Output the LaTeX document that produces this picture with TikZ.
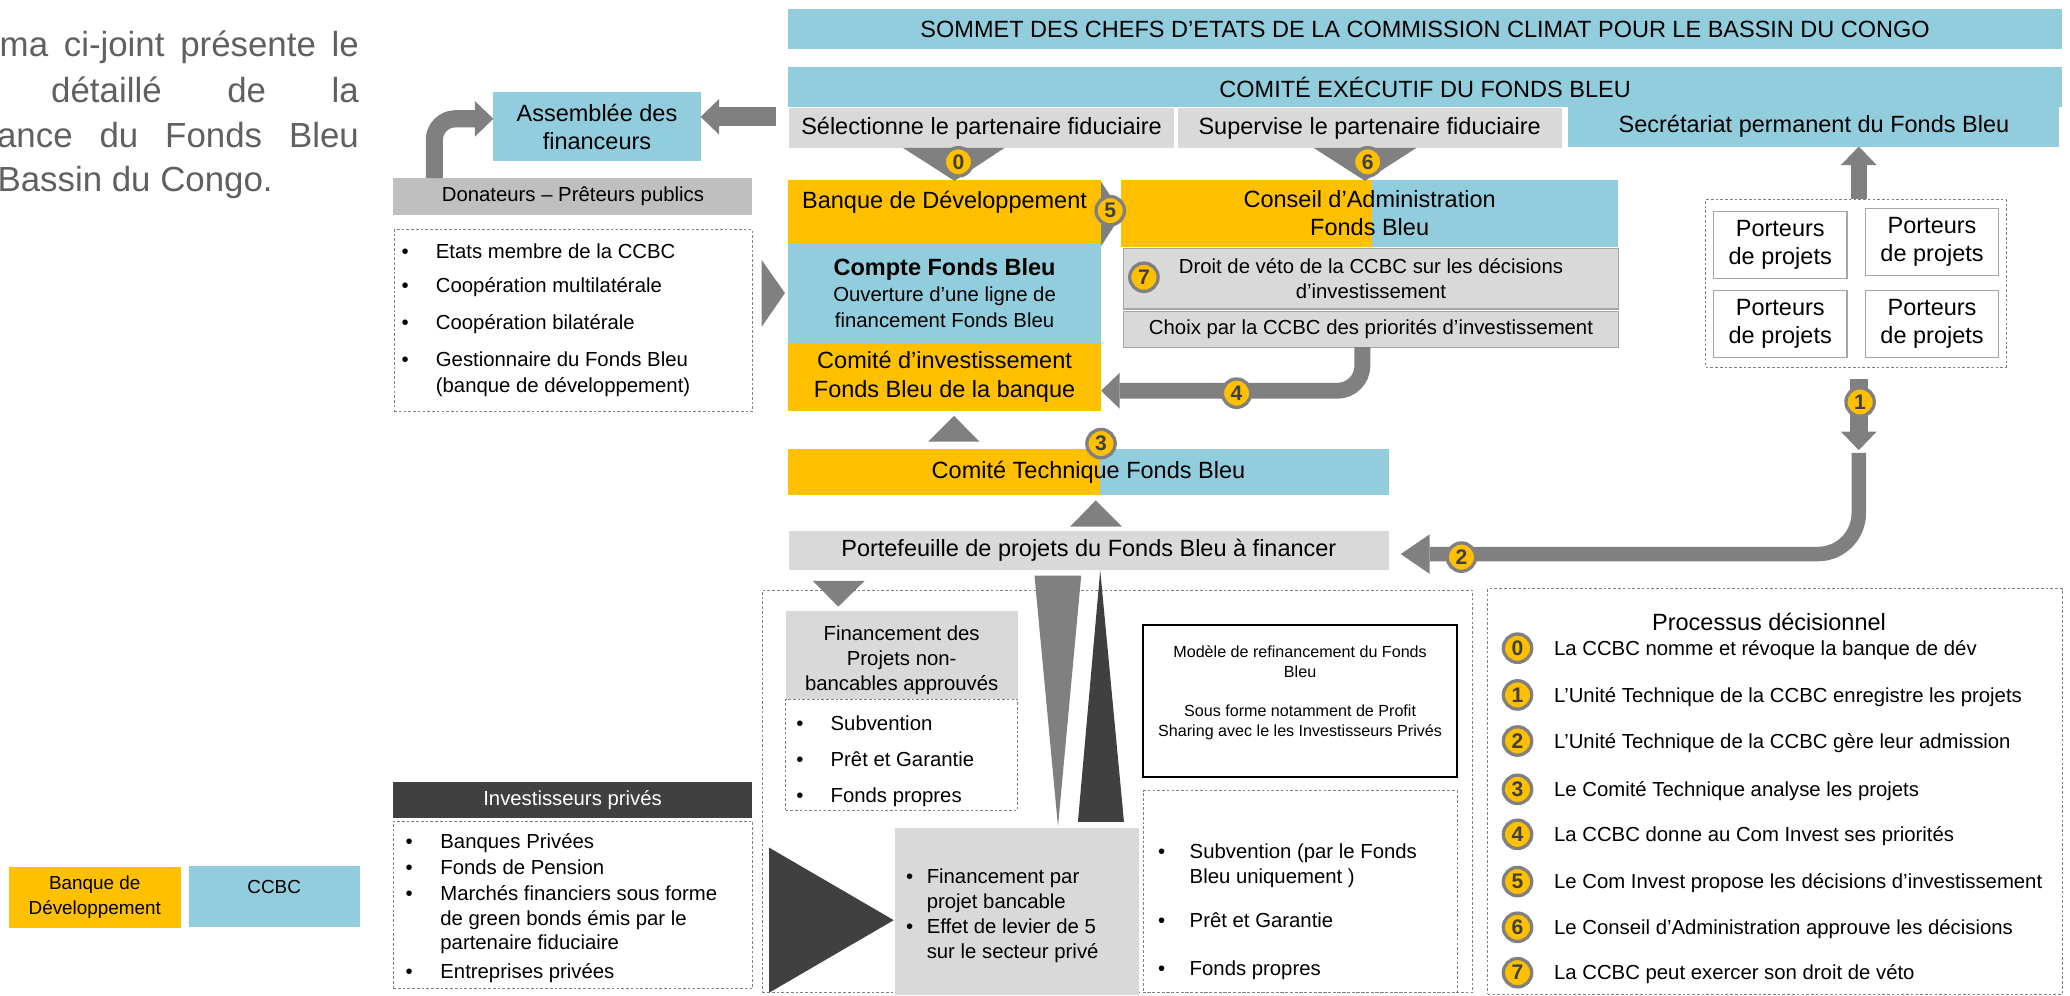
\documentclass[tikz,border=0pt]{standalone}
\usepackage{fontspec}
\setmainfont{Liberation Sans}
\usetikzlibrary{arrows.meta}

\definecolor{ccbc}{RGB}{146,205,221}
\definecolor{bd}{RGB}{255,192,0}
\definecolor{grisclair}{RGB}{217,217,217}
\definecolor{grismoyen}{RGB}{191,191,191}
\definecolor{grisfleche}{RGB}{128,128,128}
\definecolor{grisfonce}{RGB}{64,64,64}
\definecolor{grisbord}{RGB}{166,166,166}
\definecolor{grisintro}{RGB}{96,96,96}

\newcommand{\grand}{\fontsize{17.8}{21.5}\selectfont}
\newcommand{\moyen}{\fontsize{15.4}{19}\selectfont}
\newcommand{\petit}{\fontsize{12.2}{15}\selectfont}

\tikzset{
  boite/.style={inner sep=0pt, outer sep=0pt, align=center, font=\grand},
  pointille/.style={draw=grisfleche, line width=0.6pt, dash pattern=on 2pt off 1.6pt},
  intro/.style={inner sep=0pt, text=grisintro, font=\fontsize{26.4}{30}\selectfont},
  etape/.style={circle, fill=bd, draw=grisfleche, line width=2.5pt, minimum size=21.5pt, inner sep=0pt, text=grisfonce, font=\fontsize{16}{16}\selectfont\bfseries},
  fleche/.style={draw=grisfleche, line width=12pt, -{Triangle[width=27pt 0 0, length=14pt 0 0, line width=0pt 0 0]}},
  item/.style={anchor=base west, inner sep=0pt, font=\moyen, yshift=-5.5pt},
  puce/.style={anchor=base, inner sep=0pt, font=\moyen, yshift=-5.5pt},
}

\begin{document}
\begin{tikzpicture}[x=1pt, y=-1pt]
\useasboundingbox (0,0) rectangle (1568,754);

% texte d'introduction, coupe a gauche
\node[intro, anchor=base east] (intro1) at (272,43) {\hbox to 272pt{ma\hfill ci-joint\hfill présente\hfill le}};
\node[intro, anchor=base east] (intro2) at (272,77.5) {\hbox to 233pt{détaillé\hfill de\hfill la}};
\node[intro, anchor=base east] (intro3) at (272,112) {\hbox to 274pt{ance\hfill du\hfill Fonds\hfill Bleu}};
\node[intro, anchor=base west] (intro4) at (-2,145) {Bassin du Congo.};

% bandeaux du haut
\node[boite, fill=ccbc, minimum width=965pt, minimum height=30pt] (sommet) at (1079.5,22) {SOMMET DES CHEFS D’ETATS DE LA COMMISSION CLIMAT POUR LE BASSIN DU CONGO};
\node[boite, fill=ccbc, minimum width=965pt, minimum height=30pt] (comex) at (1079.5,66) {COMITÉ EXÉCUTIF DU FONDS BLEU};
\node[boite, fill=grisclair, minimum width=291pt, minimum height=30pt] (selection) at (743.5,97) {Sélectionne le partenaire fiduciaire};
\node[boite, fill=grisclair, minimum width=291pt, minimum height=30pt] (supervise) at (1037.5,97) {Supervise le partenaire fiduciaire};
\node[boite, fill=ccbc, minimum width=372pt, minimum height=30pt] (secretariat) at (1374,96) {Secrétariat permanent du Fonds Bleu};

% donateurs
\node[boite, fill=ccbc, minimum width=157pt, minimum height=52pt] (assemblee) at (452.2,96) {Assemblée des\\financeurs};
\node[boite, fill=grismoyen, font=\moyen, minimum width=272pt, minimum height=28pt] (donateurs) at (434,149) {Donateurs – Prêteurs publics};
\node[boite, pointille, minimum width=271.5pt, minimum height=138pt] (listedon) at (434.2,243) {};
\foreach \y/\t [count=\i] in {190.6/Etats membre de la CCBC, 216/Coopération multilatérale, 244.4/Coopération bilatérale, 272/Gestionnaire du Fonds Bleu}{
  \node[puce] (donp\i) at (307,\y) {\textbullet};
  \node[item] (don\i) at (330,\y) {\t};
}
\node[item] (don5) at (330,291.6) {(banque de développement)};

% banque de developpement
\node[boite, fill=bd, minimum width=237pt, minimum height=48pt] (banque) at (715.5,160) {};
\node[boite, anchor=base] (banquetxt) at (715.5,158) {Banque de Développement};
\node[boite, fill=ccbc, minimum width=237pt, minimum height=76pt, font=\fontsize{15.4}{19.5}\selectfont] (compte) at (715.5,222) {{\fontsize{17.8}{19.5}\selectfont\bfseries Compte Fonds Bleu}\\Ouverture d’une ligne de\\financement Fonds Bleu};
\node[boite, fill=bd, minimum width=237pt, minimum height=51pt] (cominv) at (715.5,285.5) {Comité d’investissement\\Fonds Bleu de la banque};
\fill[grisfleche] (834,137.5) -- (850,162) -- (834,186.5) -- cycle;

% conseil d'administration
\node[boite, fill=bd, minimum width=376pt, minimum height=51pt] (conseil) at (1037.5,161.5) {};
\fill[ccbc] (1039,136) rectangle (conseil.south east);
\node[boite] (conseiltxt) at (conseil) {Conseil d’Administration\\Fonds Bleu};
\node[boite, fill=grisclair, draw=grisbord, line width=1pt, font=\moyen, minimum width=375pt, minimum height=46pt] (veto) at (1038.5,211) {Droit de véto de la CCBC sur les décisions\\d’investissement};
\node[boite, fill=grisclair, draw=grisbord, line width=1pt, font=\moyen, minimum width=375pt, minimum height=27pt] (choix) at (1038.5,249.5) {Choix par la CCBC des priorités d’investissement};

% porteurs de projets
\node[boite, pointille, minimum width=227.5pt, minimum height=127pt] (porteurs) at (1405.75,214.5) {};
\node[boite, draw=grisbord, line width=1pt, minimum width=101pt, minimum height=51pt] (p1) at (1348.5,185.5) {Porteurs\\de projets};
\node[boite, draw=grisbord, line width=1pt, minimum width=101pt, minimum height=51pt] (p2) at (1463.5,183.25) {Porteurs\\de projets};
\node[boite, draw=grisbord, line width=1pt, minimum width=101pt, minimum height=51pt] (p3) at (1348.5,245.3) {Porteurs\\de projets};
\node[boite, draw=grisbord, line width=1pt, minimum width=101pt, minimum height=51pt] (p4) at (1463.5,245.3) {Porteurs\\de projets};

% comite technique et portefeuille
\node[boite, fill=bd, minimum width=455pt, minimum height=35pt] (comtech) at (824.5,357.5) {};
\fill[ccbc] (833,340) rectangle (comtech.south east);
\node[boite] (comtechtxt) at (comtech) {Comité Technique Fonds Bleu};
\node[boite, fill=grisclair, minimum width=454.4pt, minimum height=30pt] (portefeuille) at (824.8,417) {Portefeuille de projets du Fonds Bleu à financer};

% financements
\node[boite, pointille, minimum width=538pt, minimum height=305pt] (bas) at (846.5,599.5) {};
\node[boite, fill=grisclair, minimum width=176pt, minimum height=67pt] (nonbanc) at (683,496) {};
\node[boite, font=\moyen] (nonbanctxt) at (683,500) {Financement des\\Projets non-\\bancables approuvés};
\node[boite, pointille, minimum width=176pt, minimum height=84pt] (listenb) at (683,571.5) {};
\foreach \y/\t [count=\i] in {547.9/Subvention, 575/Prêt et Garantie, 602/Fonds propres}{
  \node[puce] (nbp\i) at (606,\y) {\textbullet};
  \node[item] (nb\i) at (629,\y) {\t};
}
\node[boite, draw=black, line width=1.2pt, minimum width=237.6pt, minimum height=115pt] (modele) at (984.8,531) {};
\node[boite, font=\petit] (modeletxt) at (984.8,524.7) {Modèle de refinancement du Fonds\\Bleu\\[15pt]Sous forme notamment de Profit\\Sharing avec le les Investisseurs Privés};
\node[boite, pointille, minimum width=237.6pt, minimum height=153pt] (listedroite) at (984.8,675.5) {};
\node[puce] (drp1) at (880,645) {\textbullet};
\node[item] (dr1) at (901,645) {Subvention (par le Fonds};
\node[item] (dr1b) at (901,664) {Bleu uniquement )};
\node[puce] (drp2) at (880,697.4) {\textbullet};
\node[item] (dr2) at (901,697.4) {Prêt et Garantie};
\node[puce] (drp3) at (880,733.3) {\textbullet};
\node[item] (dr3) at (901,733.3) {Fonds propres};
\node[boite, fill=grisclair, minimum width=185.2pt, minimum height=127pt] (bancable) at (770.4,690.5) {};
\node[puce] (bap1) at (689,664) {\textbullet};
\node[item] (ba1) at (701.8,664) {Financement par};
\node[item] (ba1b) at (701.8,683) {projet bancable};
\node[puce] (bap2) at (689,701.4) {\textbullet};
\node[item] (ba2) at (701.8,701.4) {Effet de levier de 5};
\node[item] (ba2b) at (701.8,720.3) {sur le secteur privé};

% investisseurs prives
\node[boite, fill=grisfonce, text=white, font=\moyen, minimum width=272pt, minimum height=27.4pt] (investhead) at (433.7,605.7) {Investisseurs privés};
\node[boite, pointille, minimum width=272pt, minimum height=127pt] (listeinv) at (433.8,685.5) {};
\foreach \y/\t [count=\i] in {637/Banques Privées, 657/Fonds de Pension, 676.6/Marchés financiers sous forme, 735.5/Entreprises privées}{
  \node[puce] (invp\i) at (310,\y) {\textbullet};
  \node[item] (inv\i) at (333.4,\y) {\t};
}
\node[item] (inv3b) at (333.4,695.6) {de green bonds émis par le};
\node[item] (inv3c) at (333.4,714) {partenaire fiduciaire};

% legende
\node[boite, fill=bd, font=\fontsize{14.3}{19}\selectfont, minimum width=130pt, minimum height=46pt] (legbd) at (71.8,679.6) {Banque de\\Développement};
\node[boite, fill=ccbc, minimum width=129.4pt, minimum height=46pt] (legccbc) at (207.7,679) {};
\node[boite, anchor=base, font=\fontsize{14.3}{19}\selectfont] (legccbctxt) at (207.7,676.8) {CCBC};

% triangles
\fill[grisfleche] (684,112) -- (761,112) -- (723,137) -- cycle;
\fill[grisfleche] (995,112) -- (1073,112) -- (1034,137) -- cycle;
\fill[grisfleche] (577,197) -- (594.6,222) -- (577,247.5) -- cycle;
\fill[grisfleche] (703,334.6) -- (722.6,315) -- (742,334.6) -- cycle;
\fill[grisfleche] (810.5,399) -- (830,379) -- (850,399) -- cycle;
\fill[grisfleche] (615.6,440) -- (655,440) -- (635,459.5) -- cycle;
\fill[grisfleche] (783.6,436) -- (819,436) -- (801.4,626) -- cycle;
\fill[grisfonce] (833.4,432) -- (851.4,622.6) -- (816.5,622.6) -- cycle;
\fill[grisfonce] (582.5,642) -- (677,697) -- (582.5,752) -- cycle;

% fleches
\coordinate (cass) at (588,88.5);
\draw[fleche, line width=14.6pt] (cass) -- (assemblee.east |- cass);
\coordinate (cdon) at (329,90);
\draw[fleche, line width=13pt, rounded corners=16pt] (cdon |- donateurs.north) |- (assemblee.west |- cdon);
\coordinate (cport) at (1408,0);
\draw[fleche] (cport |- porteurs.north) -- (cport |- secretariat.south);
\coordinate (d1) at (1408,287);
\coordinate (f1) at (1408,341);
\draw[fleche, line width=14pt] (d1) -- (f1);
\coordinate (d2) at (1408,343);
\coordinate (f2) at (1061,419.7);
\draw[fleche, line width=11pt, -{Triangle[width=30pt 0 0, length=22pt 0 0, line width=0pt 0 0]}, rounded corners=31pt] (d2) |- (f2);
\coordinate (c4) at (1032,296);
\draw[fleche, rounded corners=19pt] (choix.south -| c4) |- (cominv.east |- c4);

% etapes
\node[etape] (e0) at (726,122.6) {0};
\node[etape] (e6) at (1036,122.6) {6};
\node[etape] (e5) at (841,159.6) {5};
\node[etape] (e7) at (866.5,210) {7};
\node[etape] (e4) at (936.7,297.8) {4};
\node[etape] (e3) at (834,336) {3};
\node[etape] (e1) at (1409,304.5) {1};
\node[etape] (e2) at (1107,422) {2};

% processus decisionnel
\node[boite, pointille, minimum width=435pt, minimum height=307pt] (processus) at (1344.5,599.5) {};
\node[boite, anchor=base] (titreproc) at (1340,477.5) {Processus décisionnel};
\foreach \n/\y/\t in {0/491/La CCBC nomme et révoque la banque de dév, 1/526.4/L’Unité Technique de la CCBC enregistre les projets, 2/561.3/L’Unité Technique de la CCBC gère leur admission, 3/597.9/Le Comité Technique analyse les projets, 4/632/La CCBC donne au Com Invest ses priorités, 5/667.8/Le Com Invest propose les décisions d’investissement, 6/702.4/Le Conseil d’Administration approuve les décisions, 7/736.8/La CCBC peut exercer son droit de véto}{
  \node[etape] (l\n) at (1149.5,\y) {\n};
  \node[item] (lt\n) at (1177,\y) {\t};
}
\end{tikzpicture}
\end{document}
